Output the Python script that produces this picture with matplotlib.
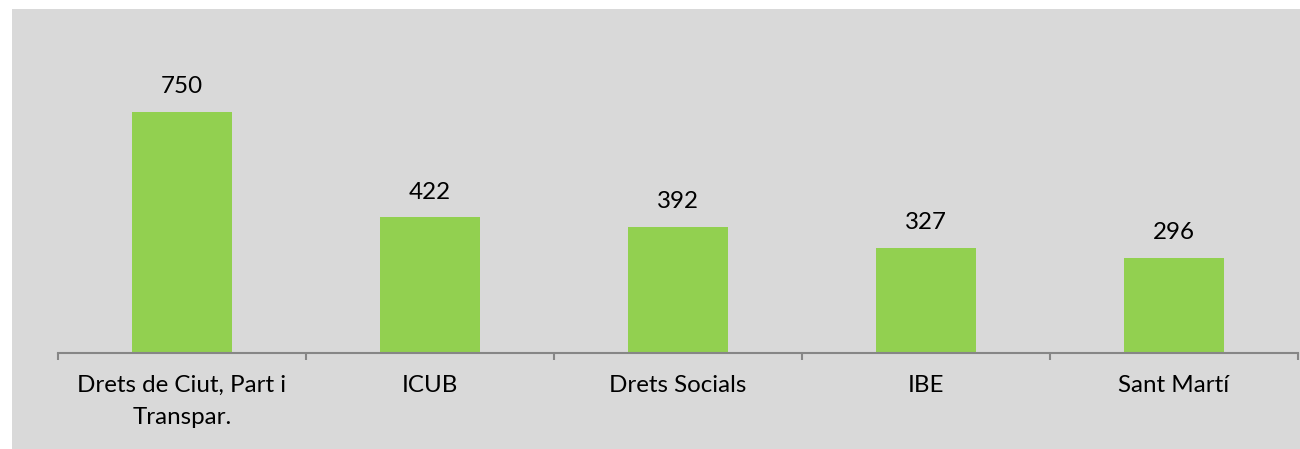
import matplotlib.pyplot as plt
from matplotlib.patches import Rectangle

# dades del gràfic
categories = ['Drets de Ciut, Part i\nTranspar.', 'ICUB', 'Drets Socials', 'IBE', 'Sant Martí']
values = [750, 422, 392, 327, 296]

W, H = 1300, 449
plt.rcParams['font.family'] = ['Lato', 'DejaVu Sans']

fig = plt.figure(figsize=(W / 100, H / 100), dpi=100, facecolor='white')

# fons gris de l'àrea del gràfic
bg = Rectangle((12 / W, 0), 1 - 12 / W, 1 - 9 / H, transform=fig.transFigure,
               facecolor='#d9d9d9', edgecolor='none', zorder=-10)
fig.add_artist(bg)

ax = fig.add_axes([58 / W, (H - 353) / H, (1298 - 58) / W, (353 - 96) / H])
ax.set_facecolor('none')
ax.set_zorder(1)

x = range(len(categories))
ax.bar(x, values, width=0.4, color='#92d050', zorder=2)
ax.set_xlim(-0.5, len(categories) - 0.5)
ax.set_ylim(0, 800)

for xi, v in zip(x, values):
    ax.annotate(f'{v}', (xi, v), xytext=(0, 10.5), textcoords='offset points',
                ha='center', va='bottom', fontsize=17.4, color='#000000')

for side in ['top', 'right', 'left']:
    ax.spines[side].set_visible(False)
ax.spines['bottom'].set_color('#868686')
ax.spines['bottom'].set_linewidth(1.5)

ax.set_yticks([])
ax.set_xticks(list(x))
ax.set_xticklabels(categories, fontsize=17.4, color='#000000', linespacing=1.65)
ax.tick_params(axis='x', which='major', length=0, pad=16)
ax.set_xticks([i - 0.5 for i in range(len(categories) + 1)], minor=True)
ax.tick_params(axis='x', which='minor', length=5, width=1.5, color='#868686')

fig.savefig('out.png', dpi=100, facecolor=fig.get_facecolor())
